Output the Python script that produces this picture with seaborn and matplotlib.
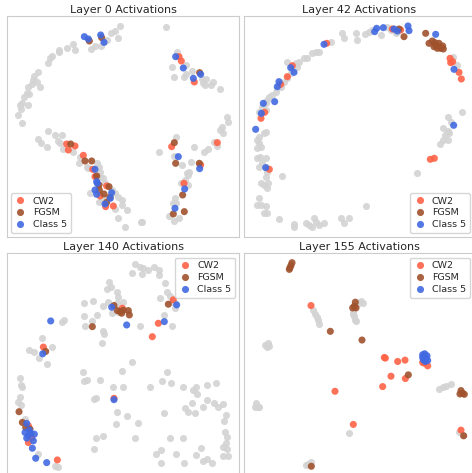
import pandas as pd
import matplotlib
matplotlib.use("Agg")
import matplotlib.pyplot as plt
import seaborn as sns

# =============================================================================
# 1. DATA (2-D embedding of activations, arbitrary units)
# =============================================================================
GROUPS = ['CW2', 'FGSM', 'Class 5']
PALETTE = {'CW2': '#FF6347', 'FGSM': '#A0522D', 'Class 5': '#4169E1'}
GREY = '#D3D3D3'

TITLES = ['Layer 0 Activations', 'Layer 42 Activations',
          'Layer 140 Activations', 'Layer 155 Activations']

# --- Layer 0 ---
L0_OTHER = [(360, 78), (345, 92), (333, 100), (353, 115), (320, 120), (313, 127), (302, 137),
            (285, 137), (273, 148), (225, 150), (220, 133), (200, 143), (178, 150), (178, 157),
            (155, 167), (150, 173), (143, 190), (115, 217), (103, 228), (100, 240), (110, 245),
            (95, 252), (85, 260), (120, 262), (80, 280), (87, 283), (73, 290), (65, 310),
            (60, 315), (83, 315), (63, 328), (53, 345), (67, 370),
            (143, 393), (165, 405), (187, 405), (115, 418), (123, 430), (175, 422), (140, 440),
            (180, 430), (188, 448), (220, 455), (237, 490), (260, 500), (290, 490), (298, 500),
            (265, 505), (300, 515), (310, 535), (315, 550), (335, 570), (345, 580), (355, 590),
            (320, 590), (305, 600), (298, 605), (367, 600), (367, 615), (380, 630), (345, 628),
            (355, 655), (375, 680), (422, 665), (270, 580), (240, 470), (300, 530),
            (497, 80), (530, 155), (515, 202), (557, 196), (523, 232), (553, 232), (557, 222),
            (575, 213), (605, 238), (617, 237), (610, 248), (633, 255), (638, 246), (660, 267),
            (615, 255), (682, 350), (685, 365), (665, 382), (668, 398), (660, 390), (642, 425),
            (650, 438), (625, 448), (613, 455), (582, 440), (527, 410), (477, 457), (523, 467),
            (547, 495), (572, 487), (568, 515), (565, 525), (560, 520), (555, 540), (542, 548),
            (565, 555), (525, 595), (520, 610), (528, 610), (508, 647), (536, 655), (522, 663),
            (425, 667)]
L0_CW2 = [(537, 170), (544, 183), (583, 246), (652, 428), (515, 440), (602, 495), (552, 550),
          (200, 432), (225, 438), (205, 450), (250, 466), (278, 508), (285, 530), (320, 558),
          (300, 588), (317, 620), (340, 618)]
L0_FGSM = [(268, 123), (305, 113), (599, 218), (523, 428), (527, 490), (598, 490), (548, 585),
           (520, 642), (553, 635), (212, 432), (255, 483), (275, 483), (290, 528), (297, 555),
           (327, 560), (298, 570), (312, 582), (330, 592), (320, 607)]
L0_C5 = [(253, 110), (265, 117), (302, 105), (312, 127), (527, 170), (550, 204), (602, 223),
         (580, 235), (535, 470), (599, 506), (554, 567), (525, 625), (285, 508), (290, 545),
         (292, 550), (285, 570), (335, 578), (290, 583), (331, 595), (315, 612)]

# --- Layer 42 ---
L42_OTHER = [(319, 100), (324, 115), (359, 100), (364, 120), (386, 102), (399, 95), (409, 90),
             (434, 105), (454, 80), (464, 90), (479, 100), (484, 95), (286, 125), (239, 155),
             (229, 160), (249, 157), (214, 175), (204, 175), (189, 185), (179, 190), (152, 187),
             (184, 200), (169, 210), (164, 220), (154, 235), (144, 245), (134, 260), (124, 265),
             (119, 275), (109, 285), (99, 290), (94, 300), (89, 310), (79, 320), (69, 335),
             (90, 330), (652, 170), (664, 195), (679, 335),
             (84, 400), (89, 395), (69, 410), (64, 420), (69, 430), (74, 440), (64, 445),
             (72, 470), (64, 475), (89, 475), (79, 490), (69, 500), (89, 500), (94, 515),
             (89, 530), (137, 528), (74, 550), (84, 555), (96, 550), (94, 565), (69, 595),
             (64, 615), (74, 615), (89, 618), (94, 638), (84, 640), (129, 658), (174, 672),
             (174, 682), (209, 670), (219, 675), (234, 655), (239, 665), (229, 680), (249, 675),
             (264, 670), (314, 655), (339, 655), (324, 670), (390, 617),
             (635, 352), (645, 365), (620, 383), (635, 393), (628, 405), (640, 400), (622, 420),
             (637, 420), (612, 432), (542, 520)]
L42_CW2 = [(272, 130), (469, 87), (494, 90), (169, 197), (154, 230), (134, 253), (86, 337),
           (75, 355), (642, 175), (644, 188), (669, 217), (676, 237), (650, 185), (583, 478),
           (595, 475), (100, 508)]
L42_FGSM = [(489, 87), (504, 110), (569, 100), (589, 123), (599, 135), (609, 130), (614, 145),
            (594, 140), (604, 145), (622, 147), (609, 140), (579, 130), (597, 128), (620, 138)]
L42_C5 = [(264, 133), (416, 95), (422, 85), (442, 83), (474, 87), (484, 93), (516, 78),
          (519, 92), (599, 103), (164, 203), (174, 217), (129, 245), (124, 260), (82, 310),
          (116, 305), (76, 340), (59, 388), (89, 503), (654, 208), (653, 376)]

# --- Layer 140 ---
L140_OTHER = [(405, 83), (420, 93), (428, 96), (445, 103), (462, 93), (478, 101), (395, 111),
              (425, 114), (477, 116), (495, 141), (328, 139), (332, 154), (320, 158), (350, 169),
              (355, 181), (368, 196), (325, 196), (308, 209), (280, 193), (253, 201), (290, 236),
              (252, 239), (275, 254), (255, 269), (308, 283), (313, 293), (307, 321), (395, 376),
              (420, 269), (502, 169), (510, 179), (515, 196), (492, 236), (515, 269), (525, 216),
              (480, 186), (525, 201), (350, 201), (355, 226), (335, 231), (192, 251), (185, 256),
              (125, 305), (118, 365), (88, 342), (103, 348), (157, 332), (142, 382), (250, 407),
              (260, 429), (253, 432), (283, 487),
              (365, 402), (300, 430), (338, 452), (370, 450), (450, 450), (500, 407), (485, 434),
              (512, 440), (548, 452), (578, 460), (588, 452), (590, 472), (620, 444), (647, 440),
              (288, 485), (352, 527), (380, 539), (347, 562), (415, 560), (492, 529), (555, 515),
              (565, 525), (585, 530), (575, 499), (608, 512), (622, 490), (642, 499), (655, 510),
              (668, 502), (678, 535), (672, 554), (288, 604), (310, 598), (405, 603), (510, 604),
              (548, 604), (282, 637), (468, 650), (482, 640), (482, 677), (527, 652), (553, 679),
              (588, 655), (603, 634), (608, 672), (622, 667), (635, 677), (668, 657), (685, 657),
              (675, 587), (680, 602), (678, 617), (670, 630), (680, 637),
              (60, 424), (63, 444), (67, 452), (60, 482), (55, 497), (63, 505), (75, 547),
              (115, 650), (165, 687), (175, 690)]
L140_CW2 = [(367, 216), (475, 261), (457, 301), (520, 191), (130, 332), (342, 485), (85, 567),
            (95, 602), (85, 617), (172, 669)]
L140_FGSM = [(342, 208), (352, 223), (365, 231), (385, 223), (388, 236), (360, 226), (370, 222),
             (277, 271), (505, 204), (137, 345), (57, 525), (67, 557), (90, 577), (77, 572)]
L140_C5 = [(335, 213), (380, 266), (493, 256), (530, 206), (152, 254), (128, 352), (342, 489),
           (80, 560), (75, 587), (85, 597), (103, 592), (100, 612), (80, 604), (97, 634),
           (107, 664), (140, 677), (92, 590), (88, 580)]

# --- Layer 155 ---
L155_OTHER = [(375, 195), (380, 200), (370, 200), (352, 225), (350, 232), (355, 240), (358, 250),
              (360, 255), (232, 222), (238, 232), (242, 242), (245, 252), (250, 262), (95, 320),
              (88, 325), (100, 330), (92, 332), (610, 457), (620, 452), (630, 447), (645, 442),
              (60, 500), (65, 510), (58, 510), (70, 512), (340, 590), (670, 585), (680, 595),
              (215, 680), (225, 675), (210, 685)]
L155_CW2 = [(225, 208), (445, 363), (448, 365), (485, 375), (507, 371), (465, 419), (508, 426),
            (440, 450), (297, 464), (352, 563), (565, 380), (575, 388), (560, 378), (675, 580)]
L155_FGSM = [(162, 95), (165, 88), (168, 80), (160, 100), (358, 198), (355, 210), (360, 215),
             (350, 215), (283, 285), (378, 311), (517, 415), (675, 462), (680, 470), (672, 472),
             (685, 473), (683, 597), (226, 688)]
L155_C5 = [(560, 355), (565, 360), (570, 365), (562, 370), (568, 375), (573, 358), (575, 372),
           (560, 363), (566, 352)]

PANELS = [
    (L0_OTHER, L0_CW2, L0_FGSM, L0_C5),
    (L42_OTHER, L42_CW2, L42_FGSM, L42_C5),
    (L140_OTHER, L140_CW2, L140_FGSM, L140_C5),
    (L155_OTHER, L155_CW2, L155_FGSM, L155_C5),
]
LEGEND_LOC = ['lower left', 'lower right', 'upper right', 'upper right']
# embedding window shown in each panel (x range, y range)
LIMITS = [((20, 718), (712, 48)), ((24, 714), (712, 48)),
          ((20, 718), (714, 52)), ((24, 714), (714, 52))]


def make_df(other, cw2, fgsm, c5):
    rows = [(x, y, 'other') for x, y in other]
    for name, pts in zip(GROUPS, [cw2, fgsm, c5]):
        rows += [(x, y, name) for x, y in pts]
    return pd.DataFrame(rows, columns=['x', 'y', 'group'])


# =============================================================================
# 2. PLOT
# =============================================================================
sns.set_style("whitegrid")
plt.rcParams['font.family'] = ['DejaVu Sans']

W, H = 472, 473
fig = plt.figure(figsize=(W / 100, H / 100), dpi=100)

# axes boxes in pixels: (left, top, right, bottom)
BOXES = [(6.7, 16, 239.3, 237.3), (244, 16, 474, 237.3),
         (6.7, 253.3, 239.3, 475), (244, 253.3, 474, 475)]

for i, (pts, box) in enumerate(zip(PANELS, BOXES)):
    l, t, r, b = box
    ax = fig.add_axes([l / W, 1 - b / H, (r - l) / W, (b - t) / H])
    df = make_df(*pts)

    sns.scatterplot(data=df[df.group == 'other'], x='x', y='y', color=GREY,
                    s=26, linewidth=0, alpha=0.9, legend=False, ax=ax)
    sns.scatterplot(data=df[df.group != 'other'], x='x', y='y', hue='group',
                    hue_order=GROUPS, palette=PALETTE, s=26, linewidth=0,
                    alpha=0.9, ax=ax)
    sns.move_legend(ax, LEGEND_LOC[i], title=None, fontsize=6.8, frameon=True,
                    labelspacing=0.3, handlelength=1.2, handletextpad=0.7,
                    borderpad=0.4, borderaxespad=0.45)

    ax.set_xlim(*LIMITS[i][0])
    ax.set_ylim(*LIMITS[i][1])
    ax.set_xticks([])
    ax.set_yticks([])
    ax.set_xlabel('')
    ax.set_ylabel('')
    ax.grid(False)
    ax.set_title(TITLES[i], fontsize=8, pad=2.5)

fig.savefig('out.png', dpi=100)
